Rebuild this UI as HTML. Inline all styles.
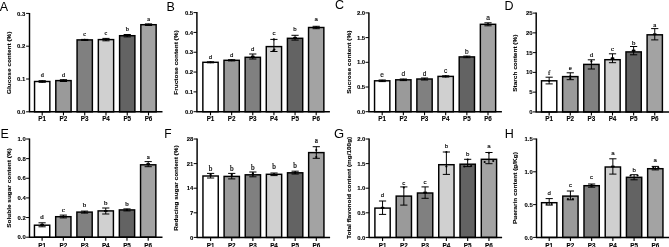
<!DOCTYPE html><html><head><meta charset="utf-8"><title>Figure</title><style>html,body{margin:0;padding:0;background:#fff}svg{display:block;filter:blur(0.35px)}text{font-family:"Liberation Sans", Arial, sans-serif;stroke:#000;stroke-width:0.1px}.b{font-weight:bold}.s{stroke-width:0.12px}.sr{font-family:"Liberation Serif", "Times New Roman", serif;stroke-width:0.2px}.L{stroke:none}</style></head><body>
<svg width="669" height="247" viewBox="0 0 669 247">
<rect width="669" height="247" fill="#fff"/>
<g>
<text class="L" x="-0.3" y="10.8" font-size="12.5">A</text>
<rect x="34.55" y="81.50" width="15.30" height="30.30" fill="#ffffff" stroke="#000" stroke-width="1.45"/>
<path d="M42.20 80.70V82.30M38.60 80.70h7.2M38.60 82.30h7.2" stroke="#000" stroke-width="1.0" fill="none"/>
<circle cx="42.20" cy="81.50" r="1.05" fill="#000"/>
<text class="sr" x="42.20" y="77.00" font-size="6.2" text-anchor="middle">d</text>
<text class="b" x="42.20" y="121.20" font-size="6.3" text-anchor="middle">P1</text>
<rect x="55.81" y="80.60" width="15.30" height="31.20" fill="#9a9a9a" stroke="#000" stroke-width="1.45"/>
<path d="M63.46 79.70V81.50M59.86 79.70h7.2M59.86 81.50h7.2" stroke="#000" stroke-width="1.0" fill="none"/>
<circle cx="63.46" cy="80.60" r="1.05" fill="#000"/>
<text class="sr" x="63.46" y="76.70" font-size="6.2" text-anchor="middle">d</text>
<text class="b" x="63.46" y="121.20" font-size="6.3" text-anchor="middle">P2</text>
<rect x="77.07" y="39.90" width="15.30" height="71.90" fill="#808080" stroke="#000" stroke-width="1.45"/>
<path d="M84.72 39.40V40.40M81.12 39.40h7.2M81.12 40.40h7.2" stroke="#000" stroke-width="1.0" fill="none"/>
<circle cx="84.72" cy="39.90" r="1.05" fill="#000"/>
<text class="sr" x="84.72" y="35.90" font-size="6.2" text-anchor="middle">c</text>
<text class="b" x="84.72" y="121.20" font-size="6.3" text-anchor="middle">P3</text>
<rect x="98.33" y="39.60" width="15.30" height="72.20" fill="#d0d0d0" stroke="#000" stroke-width="1.45"/>
<path d="M105.98 38.40V40.80M102.38 38.40h7.2M102.38 40.80h7.2" stroke="#000" stroke-width="1.0" fill="none"/>
<circle cx="105.98" cy="39.60" r="1.05" fill="#000"/>
<text class="sr" x="105.98" y="35.30" font-size="6.2" text-anchor="middle">c</text>
<text class="b" x="105.98" y="121.20" font-size="6.3" text-anchor="middle">P4</text>
<rect x="119.59" y="35.70" width="15.30" height="76.10" fill="#636363" stroke="#000" stroke-width="1.45"/>
<path d="M127.24 34.50V36.90M123.64 34.50h7.2M123.64 36.90h7.2" stroke="#000" stroke-width="1.0" fill="none"/>
<circle cx="127.24" cy="35.70" r="1.05" fill="#000"/>
<text class="sr" x="127.24" y="30.90" font-size="6.2" text-anchor="middle">b</text>
<text class="b" x="127.24" y="121.20" font-size="6.3" text-anchor="middle">P5</text>
<rect x="140.85" y="24.70" width="15.30" height="87.10" fill="#a3a3a3" stroke="#000" stroke-width="1.45"/>
<path d="M148.50 23.90V25.50M144.90 23.90h7.2M144.90 25.50h7.2" stroke="#000" stroke-width="1.0" fill="none"/>
<circle cx="148.50" cy="24.70" r="1.05" fill="#000"/>
<text class="sr" x="148.50" y="21.10" font-size="6.2" text-anchor="middle">a</text>
<text class="b" x="148.50" y="121.20" font-size="6.3" text-anchor="middle">P6</text>
<path d="M29.50 12.90V112.30M29.00 111.80H162.50" stroke="#000" stroke-width="1.45" fill="none"/>
<path d="M26.10 111.80H29.50" stroke="#000" stroke-width="1"/>
<text class="b" x="25.30" y="113.90" font-size="5.95" text-anchor="end">0.0</text>
<path d="M26.10 79.00H29.50" stroke="#000" stroke-width="1"/>
<text class="b" x="25.30" y="81.10" font-size="5.95" text-anchor="end">0.1</text>
<path d="M26.10 46.20H29.50" stroke="#000" stroke-width="1"/>
<text class="b" x="25.30" y="48.30" font-size="5.95" text-anchor="end">0.2</text>
<path d="M26.10 13.40H29.50" stroke="#000" stroke-width="1"/>
<text class="b" x="25.30" y="15.50" font-size="5.95" text-anchor="end">0.3</text>
<path d="M42.20 111.80v3.6" stroke="#000" stroke-width="1.1"/>
<path d="M63.46 111.80v3.6" stroke="#000" stroke-width="1.1"/>
<path d="M84.72 111.80v3.6" stroke="#000" stroke-width="1.1"/>
<path d="M105.98 111.80v3.6" stroke="#000" stroke-width="1.1"/>
<path d="M127.24 111.80v3.6" stroke="#000" stroke-width="1.1"/>
<path d="M148.50 111.80v3.6" stroke="#000" stroke-width="1.1"/>
<text class="b" transform="translate(11.00 62.75) rotate(-90) scale(1.09 1)" font-size="5.945" text-anchor="middle">Glucose content (%)</text>
</g>
<g>
<text class="L" x="166.5" y="10.5" font-size="12.5">B</text>
<rect x="202.85" y="62.30" width="15.30" height="49.40" fill="#ffffff" stroke="#000" stroke-width="1.45"/>
<path d="M210.50 61.80V62.80M206.90 61.80h7.2M206.90 62.80h7.2" stroke="#000" stroke-width="1.0" fill="none"/>
<circle cx="210.50" cy="62.30" r="1.05" fill="#000"/>
<text class="s" x="210.50" y="59.30" font-size="6.1" text-anchor="middle">d</text>
<text class="b" x="210.50" y="121.10" font-size="6.3" text-anchor="middle">P1</text>
<rect x="223.99" y="60.30" width="15.30" height="51.40" fill="#9a9a9a" stroke="#000" stroke-width="1.45"/>
<path d="M231.64 59.70V60.90M228.04 59.70h7.2M228.04 60.90h7.2" stroke="#000" stroke-width="1.0" fill="none"/>
<circle cx="231.64" cy="60.30" r="1.05" fill="#000"/>
<text class="s" x="231.64" y="57.30" font-size="6.1" text-anchor="middle">d</text>
<text class="b" x="231.64" y="121.10" font-size="6.3" text-anchor="middle">P2</text>
<rect x="245.13" y="57.30" width="15.30" height="54.40" fill="#808080" stroke="#000" stroke-width="1.45"/>
<path d="M252.78 54.00V59.00M249.18 54.00h7.2M249.18 59.00h7.2" stroke="#000" stroke-width="1.0" fill="none"/>
<circle cx="251.88" cy="56.50" r="1.05" fill="#000"/>
<circle cx="253.68" cy="56.50" r="1.05" fill="#000"/>
<text class="s" x="252.78" y="50.90" font-size="6.1" text-anchor="middle">d</text>
<text class="b" x="252.78" y="121.10" font-size="6.3" text-anchor="middle">P3</text>
<rect x="266.27" y="46.60" width="15.30" height="65.10" fill="#d0d0d0" stroke="#000" stroke-width="1.45"/>
<path d="M273.92 39.40V51.50M270.32 39.40h7.2M270.32 51.50h7.2" stroke="#000" stroke-width="1.0" fill="none"/>
<circle cx="273.92" cy="39.40" r="1.05" fill="#000"/>
<circle cx="274.42" cy="49.50" r="1.05" fill="#000"/>
<circle cx="273.42" cy="50.50" r="1.05" fill="#000"/>
<text class="s" x="273.92" y="34.60" font-size="6.1" text-anchor="middle">c</text>
<text class="b" x="273.92" y="121.10" font-size="6.3" text-anchor="middle">P4</text>
<rect x="287.41" y="38.30" width="15.30" height="73.40" fill="#636363" stroke="#000" stroke-width="1.45"/>
<path d="M295.06 35.30V40.10M291.46 35.30h7.2M291.46 40.10h7.2" stroke="#000" stroke-width="1.0" fill="none"/>
<circle cx="294.16" cy="37.70" r="1.05" fill="#000"/>
<circle cx="295.96" cy="37.70" r="1.05" fill="#000"/>
<text class="s" x="295.06" y="30.60" font-size="6.1" text-anchor="middle">b</text>
<text class="b" x="295.06" y="121.10" font-size="6.3" text-anchor="middle">P5</text>
<rect x="308.55" y="27.50" width="15.30" height="84.20" fill="#a3a3a3" stroke="#000" stroke-width="1.45"/>
<path d="M316.20 26.30V28.70M312.60 26.30h7.2M312.60 28.70h7.2" stroke="#000" stroke-width="1.0" fill="none"/>
<circle cx="316.20" cy="27.50" r="1.05" fill="#000"/>
<text class="s" x="316.20" y="20.50" font-size="6.1" text-anchor="middle">a</text>
<text class="b" x="316.20" y="121.10" font-size="6.3" text-anchor="middle">P6</text>
<path d="M196.90 12.10V112.20M196.40 111.70H329.90" stroke="#000" stroke-width="1.45" fill="none"/>
<path d="M193.50 111.70H196.90" stroke="#000" stroke-width="1"/>
<text class="b" x="193.20" y="113.80" font-size="5.95" text-anchor="end">0.0</text>
<path d="M193.50 91.88H196.90" stroke="#000" stroke-width="1"/>
<text class="b" x="193.20" y="93.98" font-size="5.95" text-anchor="end">0.1</text>
<path d="M193.50 72.06H196.90" stroke="#000" stroke-width="1"/>
<text class="b" x="193.20" y="74.16" font-size="5.95" text-anchor="end">0.2</text>
<path d="M193.50 52.24H196.90" stroke="#000" stroke-width="1"/>
<text class="b" x="193.20" y="54.34" font-size="5.95" text-anchor="end">0.3</text>
<path d="M193.50 32.42H196.90" stroke="#000" stroke-width="1"/>
<text class="b" x="193.20" y="34.52" font-size="5.95" text-anchor="end">0.4</text>
<path d="M193.50 12.60H196.90" stroke="#000" stroke-width="1"/>
<text class="b" x="193.20" y="14.70" font-size="5.95" text-anchor="end">0.5</text>
<path d="M210.50 111.70v3.6" stroke="#000" stroke-width="1.1"/>
<path d="M231.64 111.70v3.6" stroke="#000" stroke-width="1.1"/>
<path d="M252.78 111.70v3.6" stroke="#000" stroke-width="1.1"/>
<path d="M273.92 111.70v3.6" stroke="#000" stroke-width="1.1"/>
<path d="M295.06 111.70v3.6" stroke="#000" stroke-width="1.1"/>
<path d="M316.20 111.70v3.6" stroke="#000" stroke-width="1.1"/>
<text class="b" transform="translate(178.40 62.55) rotate(-90) scale(1.09 1)" font-size="5.963" text-anchor="middle">Fructose content (%)</text>
</g>
<g>
<text class="L" x="335" y="9.4" font-size="12.5">C</text>
<rect x="374.55" y="80.80" width="15.30" height="30.90" fill="#ffffff" stroke="#000" stroke-width="1.45"/>
<path d="M382.20 80.00V81.60M378.60 80.00h7.2M378.60 81.60h7.2" stroke="#000" stroke-width="1.0" fill="none"/>
<circle cx="382.20" cy="80.80" r="1.05" fill="#000"/>
<text class="s" x="382.20" y="77.40" font-size="6.6" text-anchor="middle">e</text>
<text class="b" x="382.20" y="121.10" font-size="6.3" text-anchor="middle">P1</text>
<rect x="395.71" y="79.80" width="15.30" height="31.90" fill="#9a9a9a" stroke="#000" stroke-width="1.45"/>
<path d="M403.36 79.00V80.60M399.76 79.00h7.2M399.76 80.60h7.2" stroke="#000" stroke-width="1.0" fill="none"/>
<circle cx="403.36" cy="79.80" r="1.05" fill="#000"/>
<text class="s" x="403.36" y="75.80" font-size="6.6" text-anchor="middle">d</text>
<text class="b" x="403.36" y="121.10" font-size="6.3" text-anchor="middle">P2</text>
<rect x="416.87" y="79.00" width="15.30" height="32.70" fill="#808080" stroke="#000" stroke-width="1.45"/>
<path d="M424.52 78.00V80.00M420.92 78.00h7.2M420.92 80.00h7.2" stroke="#000" stroke-width="1.0" fill="none"/>
<circle cx="424.52" cy="79.00" r="1.05" fill="#000"/>
<text class="s" x="424.52" y="75.80" font-size="6.6" text-anchor="middle">d</text>
<text class="b" x="424.52" y="121.10" font-size="6.3" text-anchor="middle">P3</text>
<rect x="438.03" y="76.40" width="15.30" height="35.30" fill="#d0d0d0" stroke="#000" stroke-width="1.45"/>
<path d="M445.68 75.80V77.00M442.08 75.80h7.2M442.08 77.00h7.2" stroke="#000" stroke-width="1.0" fill="none"/>
<circle cx="445.68" cy="76.40" r="1.05" fill="#000"/>
<text class="s" x="445.68" y="72.90" font-size="6.6" text-anchor="middle">c</text>
<text class="b" x="445.68" y="121.10" font-size="6.3" text-anchor="middle">P4</text>
<rect x="459.19" y="56.90" width="15.30" height="54.80" fill="#636363" stroke="#000" stroke-width="1.45"/>
<path d="M466.84 56.10V57.70M463.24 56.10h7.2M463.24 57.70h7.2" stroke="#000" stroke-width="1.0" fill="none"/>
<circle cx="466.84" cy="56.90" r="1.05" fill="#000"/>
<text class="s" x="466.84" y="53.80" font-size="6.6" text-anchor="middle">b</text>
<text class="b" x="466.84" y="121.10" font-size="6.3" text-anchor="middle">P5</text>
<rect x="480.35" y="24.30" width="15.30" height="87.40" fill="#a3a3a3" stroke="#000" stroke-width="1.45"/>
<path d="M488.00 22.80V25.80M484.40 22.80h7.2M484.40 25.80h7.2" stroke="#000" stroke-width="1.0" fill="none"/>
<circle cx="488.00" cy="24.30" r="1.05" fill="#000"/>
<text class="s" x="488.00" y="20.00" font-size="6.6" text-anchor="middle">a</text>
<text class="b" x="488.00" y="121.10" font-size="6.3" text-anchor="middle">P6</text>
<path d="M368.90 12.40V112.20M368.40 111.70H501.90" stroke="#000" stroke-width="1.45" fill="none"/>
<path d="M365.50 111.70H368.90" stroke="#000" stroke-width="1"/>
<text class="b" x="365.20" y="113.80" font-size="5.95" text-anchor="end">0.0</text>
<path d="M365.50 87.00H368.90" stroke="#000" stroke-width="1"/>
<text class="b" x="365.20" y="89.10" font-size="5.95" text-anchor="end">0.5</text>
<path d="M365.50 62.30H368.90" stroke="#000" stroke-width="1"/>
<text class="b" x="365.20" y="64.40" font-size="5.95" text-anchor="end">1.0</text>
<path d="M365.50 37.60H368.90" stroke="#000" stroke-width="1"/>
<text class="b" x="365.20" y="39.70" font-size="5.95" text-anchor="end">1.5</text>
<path d="M365.50 12.90H368.90" stroke="#000" stroke-width="1"/>
<text class="b" x="365.20" y="15.00" font-size="5.95" text-anchor="end">2.0</text>
<path d="M382.20 111.70v3.6" stroke="#000" stroke-width="1.1"/>
<path d="M403.36 111.70v3.6" stroke="#000" stroke-width="1.1"/>
<path d="M424.52 111.70v3.6" stroke="#000" stroke-width="1.1"/>
<path d="M445.68 111.70v3.6" stroke="#000" stroke-width="1.1"/>
<path d="M466.84 111.70v3.6" stroke="#000" stroke-width="1.1"/>
<path d="M488.00 111.70v3.6" stroke="#000" stroke-width="1.1"/>
<text class="b" transform="translate(350.70 62.15) rotate(-90) scale(1.09 1)" font-size="6.018" text-anchor="middle">Sucrose content (%)</text>
</g>
<g>
<text class="L" x="504.5" y="9.5" font-size="12.5">D</text>
<rect x="541.50" y="80.80" width="15.30" height="31.10" fill="#ffffff" stroke="#000" stroke-width="1.45"/>
<path d="M549.15 77.20V83.90M545.55 77.20h7.2M545.55 83.90h7.2" stroke="#000" stroke-width="1.0" fill="none"/>
<circle cx="549.15" cy="81.00" r="1.05" fill="#000"/>
<text class="sr" x="549.15" y="74.50" font-size="6.8" text-anchor="middle">f</text>
<text class="b" x="549.15" y="121.30" font-size="6.3" text-anchor="middle">P1</text>
<rect x="562.62" y="76.60" width="15.30" height="35.30" fill="#9a9a9a" stroke="#000" stroke-width="1.45"/>
<path d="M570.27 72.80V79.70M566.67 72.80h7.2M566.67 79.70h7.2" stroke="#000" stroke-width="1.0" fill="none"/>
<circle cx="570.27" cy="76.20" r="1.05" fill="#000"/>
<circle cx="570.27" cy="78.20" r="1.05" fill="#000"/>
<text class="sr" x="570.27" y="69.90" font-size="6.8" text-anchor="middle">e</text>
<text class="b" x="570.27" y="121.30" font-size="6.3" text-anchor="middle">P2</text>
<rect x="583.74" y="64.40" width="15.30" height="47.50" fill="#808080" stroke="#000" stroke-width="1.45"/>
<path d="M591.39 59.80V69.00M587.79 59.80h7.2M587.79 69.00h7.2" stroke="#000" stroke-width="1.0" fill="none"/>
<circle cx="591.39" cy="61.40" r="1.05" fill="#000"/>
<text class="sr" x="591.39" y="57.30" font-size="6.8" text-anchor="middle">d</text>
<text class="b" x="591.39" y="121.30" font-size="6.3" text-anchor="middle">P3</text>
<rect x="604.86" y="59.70" width="15.30" height="52.20" fill="#d0d0d0" stroke="#000" stroke-width="1.45"/>
<path d="M612.51 53.80V62.70M608.91 53.80h7.2M608.91 62.70h7.2" stroke="#000" stroke-width="1.0" fill="none"/>
<circle cx="611.61" cy="58.25" r="1.05" fill="#000"/>
<circle cx="613.41" cy="58.25" r="1.05" fill="#000"/>
<text class="sr" x="612.51" y="51.30" font-size="6.8" text-anchor="middle">c</text>
<text class="b" x="612.51" y="121.30" font-size="6.3" text-anchor="middle">P4</text>
<rect x="625.98" y="51.90" width="15.30" height="60.00" fill="#636363" stroke="#000" stroke-width="1.45"/>
<path d="M633.63 46.50V54.80M630.03 46.50h7.2M630.03 54.80h7.2" stroke="#000" stroke-width="1.0" fill="none"/>
<circle cx="632.73" cy="50.65" r="1.05" fill="#000"/>
<circle cx="634.53" cy="50.65" r="1.05" fill="#000"/>
<text class="sr" x="633.63" y="44.90" font-size="6.8" text-anchor="middle">b</text>
<text class="b" x="633.63" y="121.30" font-size="6.3" text-anchor="middle">P5</text>
<rect x="647.10" y="34.80" width="15.30" height="77.10" fill="#a3a3a3" stroke="#000" stroke-width="1.45"/>
<path d="M654.75 28.60V39.90M651.15 28.60h7.2M651.15 39.90h7.2" stroke="#000" stroke-width="1.0" fill="none"/>
<circle cx="653.85" cy="34.25" r="1.05" fill="#000"/>
<circle cx="655.65" cy="34.25" r="1.05" fill="#000"/>
<text class="sr" x="654.75" y="27.00" font-size="6.8" text-anchor="middle">a</text>
<text class="b" x="654.75" y="121.30" font-size="6.3" text-anchor="middle">P6</text>
<path d="M536.20 12.60V112.40M535.70 111.90H669.20" stroke="#000" stroke-width="1.45" fill="none"/>
<path d="M532.80 111.90H536.20" stroke="#000" stroke-width="1"/>
<text class="b" x="532.50" y="114.00" font-size="5.95" text-anchor="end">0</text>
<path d="M532.80 92.14H536.20" stroke="#000" stroke-width="1"/>
<text class="b" x="532.50" y="94.24" font-size="5.95" text-anchor="end">5</text>
<path d="M532.80 72.38H536.20" stroke="#000" stroke-width="1"/>
<text class="b" x="532.50" y="74.48" font-size="5.95" text-anchor="end">10</text>
<path d="M532.80 52.62H536.20" stroke="#000" stroke-width="1"/>
<text class="b" x="532.50" y="54.72" font-size="5.95" text-anchor="end">15</text>
<path d="M532.80 32.86H536.20" stroke="#000" stroke-width="1"/>
<text class="b" x="532.50" y="34.96" font-size="5.95" text-anchor="end">20</text>
<path d="M532.80 13.10H536.20" stroke="#000" stroke-width="1"/>
<text class="b" x="532.50" y="15.20" font-size="5.95" text-anchor="end">25</text>
<path d="M549.15 111.90v3.6" stroke="#000" stroke-width="1.1"/>
<path d="M570.27 111.90v3.6" stroke="#000" stroke-width="1.1"/>
<path d="M591.39 111.90v3.6" stroke="#000" stroke-width="1.1"/>
<path d="M612.51 111.90v3.6" stroke="#000" stroke-width="1.1"/>
<path d="M633.63 111.90v3.6" stroke="#000" stroke-width="1.1"/>
<path d="M654.75 111.90v3.6" stroke="#000" stroke-width="1.1"/>
<text class="b" transform="translate(516.80 63.20) rotate(-90) scale(1.09 1)" font-size="5.963" text-anchor="middle">Starch content (%)</text>
</g>
<g>
<text class="L" x="0.5" y="137.5" font-size="12.5">E</text>
<rect x="34.45" y="225.20" width="15.30" height="12.00" fill="#ffffff" stroke="#000" stroke-width="1.45"/>
<path d="M42.10 222.80V226.80M38.50 222.80h7.2M38.50 226.80h7.2" stroke="#000" stroke-width="1.0" fill="none"/>
<circle cx="41.20" cy="224.80" r="1.05" fill="#000"/>
<circle cx="43.00" cy="224.80" r="1.05" fill="#000"/>
<text class="sr" x="42.10" y="219.40" font-size="6.9" text-anchor="middle">d</text>
<text class="b" x="42.10" y="247.70" font-size="6.3" text-anchor="middle">P1</text>
<rect x="55.67" y="216.70" width="15.30" height="20.50" fill="#9a9a9a" stroke="#000" stroke-width="1.45"/>
<path d="M63.32 215.10V217.90M59.72 215.10h7.2M59.72 217.90h7.2" stroke="#000" stroke-width="1.0" fill="none"/>
<circle cx="63.32" cy="216.50" r="1.05" fill="#000"/>
<text class="sr" x="63.32" y="211.90" font-size="6.9" text-anchor="middle">c</text>
<text class="b" x="63.32" y="247.70" font-size="6.3" text-anchor="middle">P2</text>
<rect x="76.89" y="212.10" width="15.30" height="25.10" fill="#808080" stroke="#000" stroke-width="1.45"/>
<path d="M84.54 211.10V213.10M80.94 211.10h7.2M80.94 213.10h7.2" stroke="#000" stroke-width="1.0" fill="none"/>
<circle cx="84.54" cy="212.10" r="1.05" fill="#000"/>
<text class="sr" x="84.54" y="207.20" font-size="6.9" text-anchor="middle">b</text>
<text class="b" x="84.54" y="247.70" font-size="6.3" text-anchor="middle">P3</text>
<rect x="98.11" y="210.90" width="15.30" height="26.30" fill="#d0d0d0" stroke="#000" stroke-width="1.45"/>
<path d="M105.76 208.00V214.00M102.16 208.00h7.2M102.16 214.00h7.2" stroke="#000" stroke-width="1.0" fill="none"/>
<circle cx="104.86" cy="211.00" r="1.05" fill="#000"/>
<circle cx="106.66" cy="211.00" r="1.05" fill="#000"/>
<text class="sr" x="105.76" y="204.80" font-size="6.9" text-anchor="middle">b</text>
<text class="b" x="105.76" y="247.70" font-size="6.3" text-anchor="middle">P4</text>
<rect x="119.33" y="209.90" width="15.30" height="27.30" fill="#636363" stroke="#000" stroke-width="1.45"/>
<path d="M126.98 208.90V210.90M123.38 208.90h7.2M123.38 210.90h7.2" stroke="#000" stroke-width="1.0" fill="none"/>
<circle cx="126.98" cy="209.90" r="1.05" fill="#000"/>
<text class="sr" x="126.98" y="205.70" font-size="6.9" text-anchor="middle">b</text>
<text class="b" x="126.98" y="247.70" font-size="6.3" text-anchor="middle">P5</text>
<rect x="140.55" y="164.80" width="15.30" height="72.40" fill="#a3a3a3" stroke="#000" stroke-width="1.45"/>
<path d="M148.20 161.60V166.70M144.60 161.60h7.2M144.60 166.70h7.2" stroke="#000" stroke-width="1.0" fill="none"/>
<circle cx="147.30" cy="164.15" r="1.05" fill="#000"/>
<circle cx="149.10" cy="164.15" r="1.05" fill="#000"/>
<text class="sr" x="148.20" y="158.80" font-size="6.9" text-anchor="middle">a</text>
<text class="b" x="148.20" y="247.70" font-size="6.3" text-anchor="middle">P6</text>
<path d="M29.50 138.50V237.70M29.00 237.20H162.50" stroke="#000" stroke-width="1.45" fill="none"/>
<path d="M26.10 237.20H29.50" stroke="#000" stroke-width="1"/>
<text class="b" x="25.80" y="239.30" font-size="5.95" text-anchor="end">0.0</text>
<path d="M26.10 217.56H29.50" stroke="#000" stroke-width="1"/>
<text class="b" x="25.80" y="219.66" font-size="5.95" text-anchor="end">0.2</text>
<path d="M26.10 197.92H29.50" stroke="#000" stroke-width="1"/>
<text class="b" x="25.80" y="200.02" font-size="5.95" text-anchor="end">0.4</text>
<path d="M26.10 178.28H29.50" stroke="#000" stroke-width="1"/>
<text class="b" x="25.80" y="180.38" font-size="5.95" text-anchor="end">0.6</text>
<path d="M26.10 158.64H29.50" stroke="#000" stroke-width="1"/>
<text class="b" x="25.80" y="160.74" font-size="5.95" text-anchor="end">0.8</text>
<path d="M26.10 139.00H29.50" stroke="#000" stroke-width="1"/>
<text class="b" x="25.80" y="141.10" font-size="5.95" text-anchor="end">1.0</text>
<path d="M42.10 237.20v3.6" stroke="#000" stroke-width="1.1"/>
<path d="M63.32 237.20v3.6" stroke="#000" stroke-width="1.1"/>
<path d="M84.54 237.20v3.6" stroke="#000" stroke-width="1.1"/>
<path d="M105.76 237.20v3.6" stroke="#000" stroke-width="1.1"/>
<path d="M126.98 237.20v3.6" stroke="#000" stroke-width="1.1"/>
<path d="M148.20 237.20v3.6" stroke="#000" stroke-width="1.1"/>
<text class="b" transform="translate(10.50 188.00) rotate(-90) scale(1.09 1)" font-size="5.936" text-anchor="middle">Soluble sugar content (%)</text>
</g>
<g>
<text class="L" x="164.3" y="137.5" font-size="12.0">F</text>
<rect x="202.95" y="176.00" width="15.30" height="61.40" fill="#ffffff" stroke="#000" stroke-width="1.45"/>
<path d="M210.60 173.40V178.00M207.00 173.40h7.2M207.00 178.00h7.2" stroke="#000" stroke-width="1.0" fill="none"/>
<circle cx="210.60" cy="174.60" r="1.05" fill="#000"/>
<circle cx="210.60" cy="175.60" r="1.05" fill="#000"/>
<text class="sr" x="210.60" y="171.40" font-size="7.2" text-anchor="middle">b</text>
<text class="b" x="210.60" y="247.90" font-size="6.3" text-anchor="middle">P1</text>
<rect x="224.09" y="176.40" width="15.30" height="61.00" fill="#9a9a9a" stroke="#000" stroke-width="1.45"/>
<path d="M231.74 173.40V178.90M228.14 173.40h7.2M228.14 178.90h7.2" stroke="#000" stroke-width="1.0" fill="none"/>
<circle cx="231.74" cy="174.60" r="1.05" fill="#000"/>
<circle cx="231.74" cy="176.00" r="1.05" fill="#000"/>
<text class="sr" x="231.74" y="171.40" font-size="7.2" text-anchor="middle">b</text>
<text class="b" x="231.74" y="247.90" font-size="6.3" text-anchor="middle">P2</text>
<rect x="245.23" y="174.80" width="15.30" height="62.60" fill="#808080" stroke="#000" stroke-width="1.45"/>
<path d="M252.88 172.00V176.80M249.28 172.00h7.2M249.28 176.80h7.2" stroke="#000" stroke-width="1.0" fill="none"/>
<circle cx="252.88" cy="173.40" r="1.05" fill="#000"/>
<circle cx="252.88" cy="174.60" r="1.05" fill="#000"/>
<text class="sr" x="252.88" y="169.60" font-size="7.2" text-anchor="middle">b</text>
<text class="b" x="252.88" y="247.90" font-size="6.3" text-anchor="middle">P3</text>
<rect x="266.37" y="174.30" width="15.30" height="63.10" fill="#d0d0d0" stroke="#000" stroke-width="1.45"/>
<path d="M274.02 173.00V175.60M270.42 173.00h7.2M270.42 175.60h7.2" stroke="#000" stroke-width="1.0" fill="none"/>
<circle cx="274.02" cy="174.30" r="1.05" fill="#000"/>
<text class="sr" x="274.02" y="169.00" font-size="7.2" text-anchor="middle">b</text>
<text class="b" x="274.02" y="247.90" font-size="6.3" text-anchor="middle">P4</text>
<rect x="287.51" y="172.80" width="15.30" height="64.60" fill="#636363" stroke="#000" stroke-width="1.45"/>
<path d="M295.16 171.20V174.00M291.56 171.20h7.2M291.56 174.00h7.2" stroke="#000" stroke-width="1.0" fill="none"/>
<circle cx="295.16" cy="172.60" r="1.05" fill="#000"/>
<text class="sr" x="295.16" y="168.00" font-size="7.2" text-anchor="middle">b</text>
<text class="b" x="295.16" y="247.90" font-size="6.3" text-anchor="middle">P5</text>
<rect x="308.65" y="152.60" width="15.30" height="84.80" fill="#a3a3a3" stroke="#000" stroke-width="1.45"/>
<path d="M316.30 146.70V158.30M312.70 146.70h7.2M312.70 158.30h7.2" stroke="#000" stroke-width="1.0" fill="none"/>
<circle cx="316.30" cy="150.00" r="1.05" fill="#000"/>
<circle cx="316.30" cy="157.00" r="1.05" fill="#000"/>
<text class="sr" x="316.30" y="143.40" font-size="7.2" text-anchor="middle">a</text>
<text class="b" x="316.30" y="247.90" font-size="6.3" text-anchor="middle">P6</text>
<path d="M197.10 138.50V237.90M196.60 237.40H330.10" stroke="#000" stroke-width="1.45" fill="none"/>
<path d="M193.70 237.40H197.10" stroke="#000" stroke-width="1"/>
<text class="b" x="193.40" y="239.50" font-size="5.95" text-anchor="end">0</text>
<path d="M193.70 212.80H197.10" stroke="#000" stroke-width="1"/>
<text class="b" x="193.40" y="214.90" font-size="5.95" text-anchor="end">7</text>
<path d="M193.70 188.20H197.10" stroke="#000" stroke-width="1"/>
<text class="b" x="193.40" y="190.30" font-size="5.95" text-anchor="end">14</text>
<path d="M193.70 163.60H197.10" stroke="#000" stroke-width="1"/>
<text class="b" x="193.40" y="165.70" font-size="5.95" text-anchor="end">21</text>
<path d="M193.70 139.00H197.10" stroke="#000" stroke-width="1"/>
<text class="b" x="193.40" y="141.10" font-size="5.95" text-anchor="end">28</text>
<path d="M210.60 237.40v3.6" stroke="#000" stroke-width="1.1"/>
<path d="M231.74 237.40v3.6" stroke="#000" stroke-width="1.1"/>
<path d="M252.88 237.40v3.6" stroke="#000" stroke-width="1.1"/>
<path d="M274.02 237.40v3.6" stroke="#000" stroke-width="1.1"/>
<path d="M295.16 237.40v3.6" stroke="#000" stroke-width="1.1"/>
<path d="M316.30 237.40v3.6" stroke="#000" stroke-width="1.1"/>
<text class="b" transform="translate(177.70 188.10) rotate(-90) scale(1.09 1)" font-size="5.917" text-anchor="middle">Reducing sugar content (%)</text>
</g>
<g>
<text class="L" x="334.0" y="137.7" font-size="13.0">G</text>
<rect x="374.90" y="208.10" width="15.30" height="29.30" fill="#ffffff" stroke="#000" stroke-width="1.45"/>
<path d="M382.55 201.00V214.40M378.95 201.00h7.2M378.95 214.40h7.2" stroke="#000" stroke-width="1.0" fill="none"/>
<circle cx="381.65" cy="207.70" r="1.05" fill="#000"/>
<circle cx="383.45" cy="207.70" r="1.05" fill="#000"/>
<text class="s" x="382.55" y="197.10" font-size="6.1" text-anchor="middle">d</text>
<text class="b" x="382.55" y="247.90" font-size="6.3" text-anchor="middle">P1</text>
<rect x="396.18" y="196.10" width="15.30" height="41.30" fill="#9a9a9a" stroke="#000" stroke-width="1.45"/>
<path d="M403.83 186.90V205.10M400.23 186.90h7.2M400.23 205.10h7.2" stroke="#000" stroke-width="1.0" fill="none"/>
<circle cx="403.83" cy="187.50" r="1.05" fill="#000"/>
<text class="s" x="403.83" y="184.50" font-size="6.1" text-anchor="middle">c</text>
<text class="b" x="403.83" y="247.90" font-size="6.3" text-anchor="middle">P2</text>
<rect x="417.46" y="193.00" width="15.30" height="44.40" fill="#808080" stroke="#000" stroke-width="1.45"/>
<path d="M425.11 186.90V198.30M421.51 186.90h7.2M421.51 198.30h7.2" stroke="#000" stroke-width="1.0" fill="none"/>
<circle cx="424.21" cy="192.60" r="1.05" fill="#000"/>
<circle cx="426.01" cy="192.60" r="1.05" fill="#000"/>
<text class="s" x="425.11" y="183.70" font-size="6.1" text-anchor="middle">c</text>
<text class="b" x="425.11" y="247.90" font-size="6.3" text-anchor="middle">P3</text>
<rect x="438.74" y="164.70" width="15.30" height="72.70" fill="#d0d0d0" stroke="#000" stroke-width="1.45"/>
<path d="M446.39 152.00V174.40M442.79 152.00h7.2M442.79 174.40h7.2" stroke="#000" stroke-width="1.0" fill="none"/>
<circle cx="446.39" cy="152.00" r="1.05" fill="#000"/>
<circle cx="446.39" cy="166.50" r="1.05" fill="#000"/>
<text class="s" x="446.39" y="148.40" font-size="6.1" text-anchor="middle">b</text>
<text class="b" x="446.39" y="247.90" font-size="6.3" text-anchor="middle">P4</text>
<rect x="460.02" y="164.20" width="15.30" height="73.20" fill="#636363" stroke="#000" stroke-width="1.45"/>
<path d="M467.67 159.30V166.60M464.07 159.30h7.2M464.07 166.60h7.2" stroke="#000" stroke-width="1.0" fill="none"/>
<circle cx="467.67" cy="159.50" r="1.05" fill="#000"/>
<circle cx="464.17" cy="166.50" r="1.05" fill="#000"/>
<circle cx="471.17" cy="166.00" r="1.05" fill="#000"/>
<text class="s" x="467.67" y="156.40" font-size="6.1" text-anchor="middle">b</text>
<text class="b" x="467.67" y="247.90" font-size="6.3" text-anchor="middle">P5</text>
<rect x="481.30" y="159.30" width="15.30" height="78.10" fill="#a3a3a3" stroke="#000" stroke-width="1.45"/>
<path d="M488.95 152.50V163.70M485.35 152.50h7.2M485.35 163.70h7.2" stroke="#000" stroke-width="1.0" fill="none"/>
<circle cx="488.95" cy="152.70" r="1.05" fill="#000"/>
<circle cx="484.65" cy="162.00" r="1.05" fill="#000"/>
<circle cx="493.25" cy="161.00" r="1.05" fill="#000"/>
<text class="s" x="488.95" y="147.70" font-size="6.1" text-anchor="middle">a</text>
<text class="b" x="488.95" y="247.90" font-size="6.3" text-anchor="middle">P6</text>
<path d="M369.10 138.50V237.90M368.60 237.40H502.10" stroke="#000" stroke-width="1.45" fill="none"/>
<path d="M365.70 237.40H369.10" stroke="#000" stroke-width="1"/>
<text class="b" x="365.40" y="239.50" font-size="5.95" text-anchor="end">0.0</text>
<path d="M365.70 212.80H369.10" stroke="#000" stroke-width="1"/>
<text class="b" x="365.40" y="214.90" font-size="5.95" text-anchor="end">0.5</text>
<path d="M365.70 188.20H369.10" stroke="#000" stroke-width="1"/>
<text class="b" x="365.40" y="190.30" font-size="5.95" text-anchor="end">1.0</text>
<path d="M365.70 163.60H369.10" stroke="#000" stroke-width="1"/>
<text class="b" x="365.40" y="165.70" font-size="5.95" text-anchor="end">1.5</text>
<path d="M365.70 139.00H369.10" stroke="#000" stroke-width="1"/>
<text class="b" x="365.40" y="141.10" font-size="5.95" text-anchor="end">2.0</text>
<path d="M382.55 237.40v3.6" stroke="#000" stroke-width="1.1"/>
<path d="M403.83 237.40v3.6" stroke="#000" stroke-width="1.1"/>
<path d="M425.11 237.40v3.6" stroke="#000" stroke-width="1.1"/>
<path d="M446.39 237.40v3.6" stroke="#000" stroke-width="1.1"/>
<path d="M467.67 237.40v3.6" stroke="#000" stroke-width="1.1"/>
<path d="M488.95 237.40v3.6" stroke="#000" stroke-width="1.1"/>
<text class="b" transform="translate(351.20 187.90) rotate(-90) scale(1.09 1)" font-size="5.890" text-anchor="middle">Total flavonoid content (mg/100g)</text>
</g>
<g>
<text class="L" x="504.8" y="137.5" font-size="12.5">H</text>
<rect x="541.55" y="202.70" width="15.30" height="34.70" fill="#ffffff" stroke="#000" stroke-width="1.45"/>
<path d="M549.20 198.60V205.10M545.60 198.60h7.2M545.60 205.10h7.2" stroke="#000" stroke-width="1.0" fill="none"/>
<circle cx="546.70" cy="204.00" r="1.05" fill="#000"/>
<circle cx="551.70" cy="204.00" r="1.05" fill="#000"/>
<text class="s" x="549.20" y="194.90" font-size="6.1" text-anchor="middle">d</text>
<text class="b" x="549.20" y="247.90" font-size="6.3" text-anchor="middle">P1</text>
<rect x="562.77" y="196.10" width="15.30" height="41.30" fill="#9a9a9a" stroke="#000" stroke-width="1.45"/>
<path d="M570.42 191.00V199.80M566.82 191.00h7.2M566.82 199.80h7.2" stroke="#000" stroke-width="1.0" fill="none"/>
<circle cx="567.92" cy="199.00" r="1.05" fill="#000"/>
<circle cx="572.92" cy="199.00" r="1.05" fill="#000"/>
<text class="s" x="570.42" y="186.90" font-size="6.1" text-anchor="middle">c</text>
<text class="b" x="570.42" y="247.90" font-size="6.3" text-anchor="middle">P2</text>
<rect x="583.99" y="185.70" width="15.30" height="51.70" fill="#808080" stroke="#000" stroke-width="1.45"/>
<path d="M591.64 184.00V187.20M588.04 184.00h7.2M588.04 187.20h7.2" stroke="#000" stroke-width="1.0" fill="none"/>
<circle cx="590.74" cy="185.60" r="1.05" fill="#000"/>
<circle cx="592.54" cy="185.60" r="1.05" fill="#000"/>
<text class="s" x="591.64" y="179.10" font-size="6.1" text-anchor="middle">c</text>
<text class="b" x="591.64" y="247.90" font-size="6.3" text-anchor="middle">P3</text>
<rect x="605.21" y="167.00" width="15.30" height="70.40" fill="#d0d0d0" stroke="#000" stroke-width="1.45"/>
<path d="M612.86 158.80V174.10M609.26 158.80h7.2M609.26 174.10h7.2" stroke="#000" stroke-width="1.0" fill="none"/>
<circle cx="611.96" cy="166.45" r="1.05" fill="#000"/>
<circle cx="613.76" cy="166.45" r="1.05" fill="#000"/>
<text class="s" x="612.86" y="155.20" font-size="6.1" text-anchor="middle">a</text>
<text class="b" x="612.86" y="247.90" font-size="6.3" text-anchor="middle">P4</text>
<rect x="626.43" y="177.30" width="15.30" height="60.10" fill="#636363" stroke="#000" stroke-width="1.45"/>
<path d="M634.08 174.70V179.80M630.48 174.70h7.2M630.48 179.80h7.2" stroke="#000" stroke-width="1.0" fill="none"/>
<circle cx="630.58" cy="175.50" r="1.05" fill="#000"/>
<circle cx="637.58" cy="175.50" r="1.05" fill="#000"/>
<text class="s" x="634.08" y="172.00" font-size="6.1" text-anchor="middle">b</text>
<text class="b" x="634.08" y="247.90" font-size="6.3" text-anchor="middle">P5</text>
<rect x="647.65" y="168.70" width="15.30" height="68.70" fill="#a3a3a3" stroke="#000" stroke-width="1.45"/>
<path d="M655.30 166.40V169.90M651.70 166.40h7.2M651.70 169.90h7.2" stroke="#000" stroke-width="1.0" fill="none"/>
<circle cx="653.30" cy="167.30" r="1.05" fill="#000"/>
<circle cx="658.30" cy="167.50" r="1.05" fill="#000"/>
<text class="s" x="655.30" y="162.30" font-size="6.1" text-anchor="middle">a</text>
<text class="b" x="655.30" y="247.90" font-size="6.3" text-anchor="middle">P6</text>
<path d="M536.50 138.50V237.90M536.00 237.40H669.50" stroke="#000" stroke-width="1.45" fill="none"/>
<path d="M533.10 237.40H536.50" stroke="#000" stroke-width="1"/>
<text class="b" x="532.80" y="239.50" font-size="5.95" text-anchor="end">0.0</text>
<path d="M533.10 204.60H536.50" stroke="#000" stroke-width="1"/>
<text class="b" x="532.80" y="206.70" font-size="5.95" text-anchor="end">0.5</text>
<path d="M533.10 171.80H536.50" stroke="#000" stroke-width="1"/>
<text class="b" x="532.80" y="173.90" font-size="5.95" text-anchor="end">1.0</text>
<path d="M533.10 139.00H536.50" stroke="#000" stroke-width="1"/>
<text class="b" x="532.80" y="141.10" font-size="5.95" text-anchor="end">1.5</text>
<path d="M549.20 237.40v3.6" stroke="#000" stroke-width="1.1"/>
<path d="M570.42 237.40v3.6" stroke="#000" stroke-width="1.1"/>
<path d="M591.64 237.40v3.6" stroke="#000" stroke-width="1.1"/>
<path d="M612.86 237.40v3.6" stroke="#000" stroke-width="1.1"/>
<path d="M634.08 237.40v3.6" stroke="#000" stroke-width="1.1"/>
<path d="M655.30 237.40v3.6" stroke="#000" stroke-width="1.1"/>
<text class="b" transform="translate(516.50 188.10) rotate(-90) scale(1.09 1)" font-size="5.963" text-anchor="middle">Puerarin content (g/Kg)</text>
</g>
</svg></body></html>
